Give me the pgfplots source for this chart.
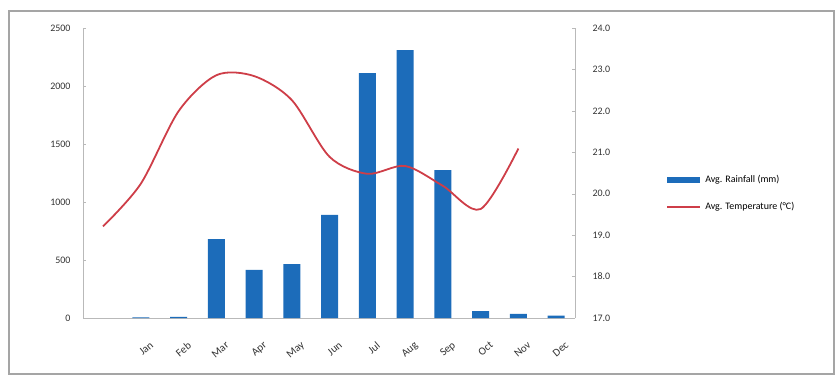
\documentclass[border=0pt]{standalone}
\usepackage{pgfplots}
\pgfplotsset{compat=1.18}
\usepackage{fontspec}
\setmainfont{Carlito}
\definecolor{barblue}{RGB}{28,108,186}
\definecolor{linered}{RGB}{206,62,72}
\definecolor{axgray}{RGB}{185,185,185}
\definecolor{framegray}{RGB}{165,165,165}
\begin{document}
\begin{tikzpicture}
\path (0bp,0bp) rectangle (836bp,386bp);
\draw[framegray, line width=2.5bp] (9bp,12bp) rectangle (834bp,375bp);
\begin{axis}[
  at={(83bp,68bp)}, anchor=south west, scale only axis,
  width=492bp, height=290bp,
  xmin=-0.53, xmax=12.5, ymin=0, ymax=2500,
  axis y line*=left, axis x line*=bottom,
  axis line style={axgray, line width=0.8bp},
  xtick={1,...,12},
  xticklabels={Jan,Feb,Mar,Apr,May,Jun,Jul,Aug,Sep,Oct,Nov,Dec},
  x tick label style={rotate=40, anchor=north east, font=\fontsize{11}{12}\selectfont, xshift=-7bp, yshift=-22bp, text=black!80, inner sep=1bp},
  major x tick style={draw=none},
  ytick={0,500,...,2500},
  y tick label style={font=\fontsize{10}{11}\selectfont, xshift=-9bp, text=black!80},
  /pgf/number format/assume math mode=true,
  /pgf/number format/1000 sep={},
  major tick length=3bp,
  tick style={axgray},
  clip=false,
]
\addplot[ybar, bar width=17bp, fill=barblue, draw=none] coordinates {
(1,5) (2,10) (3,680) (4,415) (5,465) (6,890) (7,2110) (8,2310) (9,1275) (10,60) (11,35) (12,20)
};
\end{axis}
\begin{axis}[
  at={(83bp,68bp)}, anchor=south west, scale only axis,
  width=492bp, height=290bp,
  xmin=-0.53, xmax=12.5, ymin=17, ymax=24,
  axis y line*=right, axis x line=none,
  axis line style={axgray, line width=0.8bp},
  ytick={17,18,...,24},
  y tick label style={font=\fontsize{10}{11}\selectfont, xshift=14bp, text=black!80,
    /pgf/number format/.cd, fixed, fixed zerofill, precision=1},
  /pgf/number format/assume math mode=true,
  major tick length=3bp,
  tick style={axgray},
  legend image code/.code={\draw[#1] (0bp,0bp) -- (33bp,0bp);},
  legend style={at={(1.175,0.43)}, anchor=west, draw=none, fill=none,
    font=\fontsize{10}{11}\selectfont, row sep=14bp},
  legend cell align=left,
]
\addlegendimage{barblue, line width=6bp}
\addlegendentry{Avg. Rainfall (mm)}
\addplot[linered, line width=1.8bp, smooth, tension=0.5] coordinates {
(0,19.21) (1,20.24) (2,21.99) (3,22.86) (4,22.84) (5,22.26) (6,20.89) (7,20.48) (8,20.67) (9,20.19) (10,19.63) (11,21.09)
};
\addlegendentry{Avg. Temperature (°C)}
\end{axis}
\end{tikzpicture}
\end{document}
